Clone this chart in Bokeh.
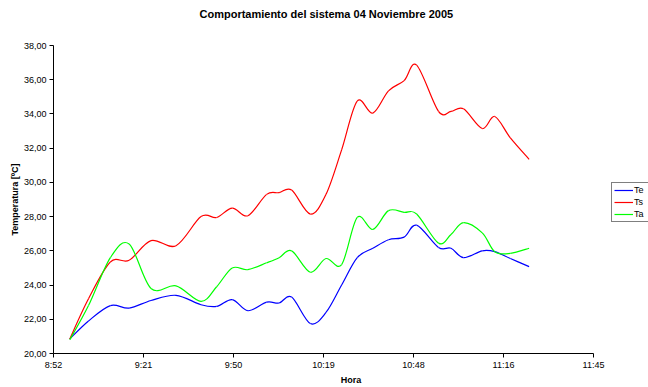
from bokeh.plotting import figure
from bokeh.models import Range1d, FixedTicker, Legend, LegendItem, ColumnDataSource, Title
from bokeh.embed import file_html
from bokeh.resources import INLINE

# Hora de cada lectura
hora = ["8:58", "9:04", "9:11", "9:17", "9:24", "9:32", "9:40", "9:45", "9:50", "9:55",
        "10:01", "10:05", "10:09", "10:15", "10:20", "10:25", "10:30", "10:35", "10:40",
        "10:45", "10:49", "10:56", "11:00", "11:04", "11:10", "11:14", "11:19", "11:25"]

# Temperaturas [ºC]
te = [20.85, 21.9, 22.8, 22.65, 23.1, 23.4, 22.85, 22.75, 23.15, 22.5,
      23.0, 22.95, 23.3, 21.75, 22.4, 24.0, 25.6, 26.15, 26.65,
      26.8, 27.5, 26.2, 26.15, 25.6, 26.0, 25.95, 25.55, 25.08]
ts = [20.85, 23.2, 25.35, 25.45, 26.6, 26.3, 28.0, 27.95, 28.5, 28.05,
      29.3, 29.4, 29.55, 28.15, 29.3, 31.9, 34.75, 34.05, 35.35,
      35.95, 36.85, 34.15, 34.15, 34.3, 33.15, 33.85, 32.6, 31.35]
ta = [20.8, 22.8, 25.6, 26.4, 23.8, 23.95, 23.05, 23.9, 25.0, 24.9,
      25.3, 25.6, 26.0, 24.75, 25.55, 25.2, 27.95, 27.25, 28.35,
      28.25, 28.15, 26.45, 26.95, 27.65, 27.05, 25.95, 25.85, 26.15]

# Eje horizontal en fracción de día
x_ticks = [0.37, 0.39, 0.41, 0.43, 0.45, 0.47, 0.49]
x_tick_labels = ["8:52", "9:21", "9:50", "10:19", "10:48", "11:16", "11:45"]
y_ticks = [20, 22, 24, 26, 28, 30, 32, 34, 36, 38]
y_tick_labels = ["20,00", "22,00", "24,00", "26,00", "28,00", "30,00",
                 "32,00", "34,00", "36,00", "38,00"]

FONT = "Liberation Sans"


def day_fraction(hhmm):
    h, m = hhmm.split(":")
    return (int(h) * 60 + int(m)) / 1440.0


def smooth_segments(xs, ys):
    """Bezier control points (Catmull-Rom, tension 1/6) for a smoothed line."""
    n = len(xs)
    d = {k: [] for k in ("x0", "y0", "x1", "y1", "cx0", "cy0", "cx1", "cy1")}
    for i in range(n - 1):
        a = max(i - 1, 0)
        b = min(i + 2, n - 1)
        d["x0"].append(xs[i])
        d["y0"].append(ys[i])
        d["x1"].append(xs[i + 1])
        d["y1"].append(ys[i + 1])
        d["cx0"].append(xs[i] + (xs[i + 1] - xs[a]) / 6.0)
        d["cy0"].append(ys[i] + (ys[i + 1] - ys[a]) / 6.0)
        d["cx1"].append(xs[i + 1] - (xs[b] - xs[i]) / 6.0)
        d["cy1"].append(ys[i + 1] - (ys[b] - ys[i]) / 6.0)
    return ColumnDataSource(d)


# The frame runs to the right edge so the legend has room beside the axis;
# the x axis itself is bounded to 8:52 - 11:45.
span = x_ticks[-1] - x_ticks[0]
x_end = x_ticks[-1] + span * 55 / 540

p = figure(width=648, height=387, output_backend="svg", toolbar_location=None,
           x_range=Range1d(x_ticks[0], x_end),
           y_range=Range1d(y_ticks[0], y_ticks[-1]),
           min_border_left=53, min_border_right=0,
           min_border_top=45, min_border_bottom=33,
           title="Comportamiento del sistema 04 Noviembre 2005")

p.outline_line_color = None
p.xgrid.visible = False
p.ygrid.visible = False
p.background_fill_color = "white"
p.border_fill_color = "white"

p.title.text_font = FONT
p.title.text_font_size = "11px"
p.title.text_font_style = "bold"
p.title.text_color = "black"
p.title.align = "left"
p.title.offset = 146

# blank band between the title and the frame
p.add_layout(Title(text=" ", text_font_size="8px"), "above")

for ax in (p.xaxis[0], p.yaxis[0]):
    ax.axis_line_color = "black"
    ax.axis_line_width = 1
    ax.major_tick_line_color = "black"
    ax.major_tick_in = 0
    ax.major_tick_out = 4
    ax.minor_tick_line_color = None
    ax.major_label_text_font = FONT
    ax.major_label_text_font_size = "9px"
    ax.major_label_text_color = "black"
    ax.major_label_standoff = 3
    ax.axis_label_text_font = FONT
    ax.axis_label_text_font_size = "9px"
    ax.axis_label_text_font_style = "bold"
    ax.axis_label_text_color = "black"

p.xaxis.ticker = FixedTicker(ticks=x_ticks)
p.xaxis.major_label_overrides = dict(zip(x_ticks, x_tick_labels))
p.xaxis.bounds = (x_ticks[0], x_ticks[-1])
p.xaxis.axis_label = "Hora"
p.xaxis.major_label_standoff = 2
p.xaxis.axis_label_standoff = 2

p.yaxis.ticker = FixedTicker(ticks=y_ticks)
p.yaxis.major_label_overrides = dict(zip(y_ticks, y_tick_labels))
p.yaxis.axis_label = "Temperatura [ºC]"
p.yaxis.axis_label_standoff = 1

x = [day_fraction(h) for h in hora]
items = []
for name, ys, color in (("Te", te, "#0000ff"), ("Ts", ts, "#ff0000"), ("Ta", ta, "#00ff00")):
    src = smooth_segments(x, ys)
    r = p.bezier(x0="x0", y0="y0", x1="x1", y1="y1",
                 cx0="cx0", cy0="cy0", cx1="cx1", cy1="cy1",
                 source=src, line_color=color, line_width=1.2)
    items.append(LegendItem(label=name, renderers=[r]))

legend = Legend(items=items, location=(558, 131),
                glyph_width=19, glyph_height=10, label_height=10, label_width=14,
                spacing=2, padding=2, margin=0, label_standoff=1,
                label_text_font=FONT, label_text_font_size="9px",
                label_text_color="black",
                border_line_color="black", border_line_width=1,
                background_fill_color="white", background_fill_alpha=1)
p.add_layout(legend)

open("out.html", "w").write(file_html(p, INLINE))
